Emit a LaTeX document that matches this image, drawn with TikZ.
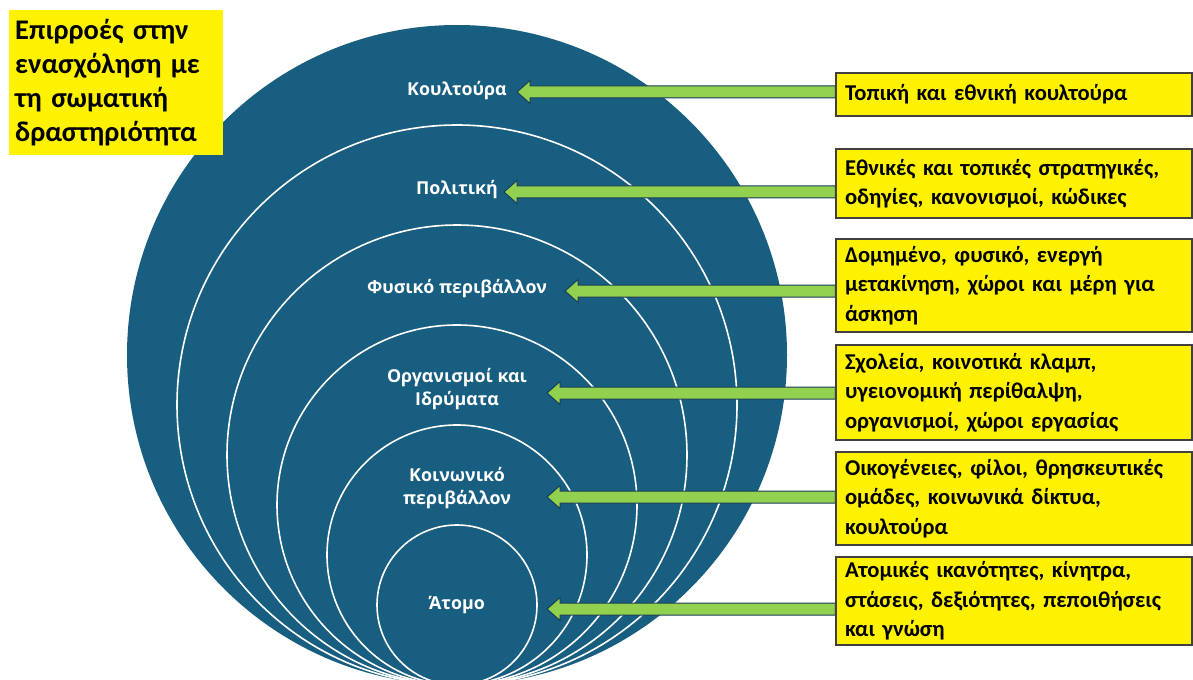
\documentclass[tikz,border=0pt]{standalone}
\usepackage{fontspec}
\setmainfont{Carlito}
\newfontfamily\labfont{Open Sans}
\usetikzlibrary{calc}
\definecolor{discblue}{RGB}{24,94,128}
\definecolor{arrgreen}{RGB}{146,208,80}
\definecolor{arrline}{RGB}{25,62,88}
\definecolor{boxborder}{RGB}{64,64,64}
\newcommand\fatarrow[2]{%
  \filldraw[arrgreen, draw=arrline, line width=1bp, line join=miter]
    let \p1=(#2), \p2=(#1.west) in
    ({\x2},{\y1+6bp}) -- ({\x1+13bp},{\y1+6bp}) -- ({\x1+13bp},{\y1+11.5bp}) --
    ({\x1},{\y1}) -- ({\x1+13bp},{\y1-11.5bp}) -- ({\x1+13bp},{\y1-6bp}) --
    ({\x2},{\y1-6bp}) -- cycle;}
\begin{document}
\begin{tikzpicture}[x=1bp,y=-1bp,
  lab/.style={text=white, font=\labfont\bfseries\fontsize{17.8bp}{22.5bp}\selectfont,
    align=center, inner sep=0pt},
  ring/.style={draw=white, line width=1.6bp},
  infobox/.style={fill=yellow, draw=boxborder, line width=1.2bp, text width=338bp,
    inner xsep=9bp, inner ysep=0pt, align=left,
    font=\bfseries\fontsize{22.6bp}{29.5bp}\selectfont},
  titlebox/.style={fill=yellow, text width=202bp, inner xsep=6bp, inner ysep=0pt,
    align=left, font=\bfseries\fontsize{28.4bp}{34bp}\selectfont}]
\useasboundingbox (0,0) rectangle (1193,680);
\clip (0,0) rectangle (1193,680);
% nested circles, all tangent at the bottom
\fill[discblue] (457,355) circle[radius=330];
\draw[ring] (457,405) circle[radius=280];
\draw[ring] (457,455) circle[radius=230];
\draw[ring] (457,505) circle[radius=180];
\draw[ring] (457,555) circle[radius=130];
\draw[ring] (457,605) circle[radius=80];
% labels
\node[lab] (l1) at (457,91) {Κουλτούρα};
\node[lab] (l2) at (457,190) {Πολιτική};
\node[lab] (l3) at (457,289) {Φυσικό περιβάλλον};
\node[lab] (l4) at (457,389) {Οργανισμοί και\\Ιδρύματα};
\node[lab] (l5) at (457,488) {Κοινωνικό\\περιβάλλον};
\node[lab] (l6) at (457,605) {Άτομο};
% arrow tips
\coordinate (t1) at (517,92);
\coordinate (t2) at (504,192);
\coordinate (t3) at (565,291);
\coordinate (t4) at (547,393);
\coordinate (t5) at (547,497);
\coordinate (t6) at (547,609);
% boxes
\node[infobox, minimum height=43bp] (b1) at (1014,94.5) {Τοπική και εθνική κουλτούρα};
\node[infobox, minimum height=69bp] (b2) at (1014,183.5) {Εθνικές και τοπικές στρατηγικές,\\οδηγίες, κανονισμοί, κώδικες};
\node[infobox, minimum height=93bp] (b3) at (1014,285.5) {Δομημένο, φυσικό, ενεργή\\μετακίνηση, χώροι και μέρη για\\άσκηση};
\node[infobox, minimum height=95bp] (b4) at (1014,392.5) {Σχολεία, κοινοτικά κλαμπ,\\υγειονομική περίθαλψη,\\οργανισμοί, χώροι εργασίας};
\node[infobox, minimum height=93bp] (b5) at (1014,498.5) {Οικογένειες, φίλοι, θρησκευτικές\\ομάδες, κοινωνικά δίκτυα,\\κουλτούρα};
\node[infobox, minimum height=88bp] (b6) at (1014,601) {Ατομικές ικανότητες, κίνητρα,\\στάσεις, δεξιότητες, πεποιθήσεις\\και γνώση};
% arrows
\fatarrow{b1}{t1}
\fatarrow{b2}{t2}
\fatarrow{b3}{t3}
\fatarrow{b4}{t4}
\fatarrow{b5}{t5}
\fatarrow{b6}{t6}
% redraw box borders over arrow ends
\foreach \b in {b1,b2,b3,b4,b5,b6} \draw[boxborder, line width=1.2bp] (\b.north west) -- (\b.south west);
% title
\node[titlebox, anchor=north west, minimum height=145bp] (title) at (9,10)
  {Επιρροές στην\\ενασχόληση με\\τη σωματική\\δραστηριότητα};
\end{tikzpicture}
\end{document}
